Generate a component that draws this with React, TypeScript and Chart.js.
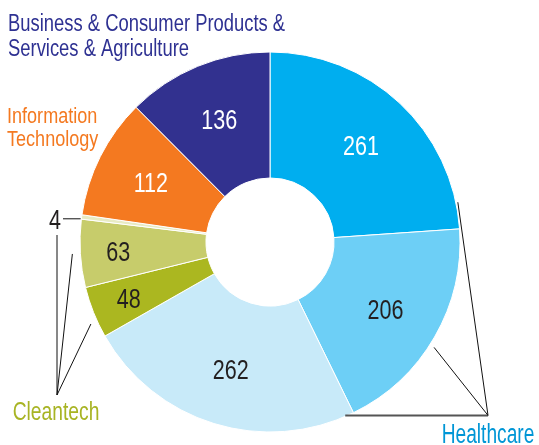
import React, { useEffect, useRef } from 'react';
import { Chart, registerables } from 'chart.js';

Chart.register(...registerables);

const sliceLabels = ['Healthcare 1', 'Healthcare 2', 'Healthcare 3', 'Cleantech 1', 'Cleantech 2', 'Cleantech 3', 'Information Technology', 'Business & Consumer Products & Services & Agriculture'];
const values = [261, 206, 262, 48, 63, 4, 112, 136];
const sliceColors = ['#00AEEF', '#6DCFF6', '#C8EAF9', '#ABB720', '#C7CC6B', '#E8EBC4', '#F47920', '#32318F'];
const valueTextColors = ['#FFFFFF', '#231F20', '#231F20', '#231F20', '#231F20', '#231F20', '#FFFFFF', '#FFFFFF'];

const FONT = '"Liberation Sans", Arial, sans-serif';

function drawText(ctx: CanvasRenderingContext2D, text: string, x: number, y: number, size: number, k: number, color: string, align: CanvasTextAlign) {
  ctx.save();
  ctx.translate(x, y);
  ctx.scale(k, 1);
  ctx.font = `${size}px ${FONT}`;
  ctx.fillStyle = color;
  ctx.textAlign = align;
  ctx.textBaseline = 'alphabetic';
  ctx.fillText(text, 0, 0);
  ctx.restore();
}

function line(ctx: CanvasRenderingContext2D, x1: number, y1: number, x2: number, y2: number, color = '#111', w = 1) {
  ctx.save();
  ctx.strokeStyle = color;
  ctx.lineWidth = w;
  ctx.beginPath();
  ctx.moveTo(x1, y1);
  ctx.lineTo(x2, y2);
  ctx.stroke();
  ctx.restore();
}

const annotPlugin = {
  id: 'annot',
  afterDatasetsDraw(chart: any) {
    const ctx: CanvasRenderingContext2D = chart.ctx;
    const arcs = chart.getDatasetMeta(0).data as any[];
    const pt = (i: number, t: number, dr: number) => {
      const a = arcs[i];
      const ang = a.startAngle + (a.endAngle - a.startAngle) * t;
      const r = a.outerRadius + dr;
      return [a.x + r * Math.cos(ang), a.y + r * Math.sin(ang)];
    };
    const S = 28;
    const K = 0.77;
    // values inside slices
    arcs.forEach((a, i) => {
      const span = a.endAngle - a.startAngle;
      if (span < 0.1) return;
      const mid = (a.startAngle + a.endAngle) / 2;
      const r = span < 0.45 ? a.outerRadius - 38 : a.innerRadius + (a.outerRadius - a.innerRadius) * 0.55;
      const x = a.x + r * Math.cos(mid);
      const y = a.y + r * Math.sin(mid);
      drawText(ctx, String(values[i]), x, y + 0.358 * S, S, K, valueTextColors[i], 'center');
    });

    // small slice "4" with leader
    const p4 = pt(5, 0.5, 1);
    line(ctx, p4[0], p4[1] + 2, 63, p4[1] + 2);
    drawText(ctx, String(values[5]), 61, p4[1] + 2 + 0.358 * S, S, K, '#231F20', 'right');

    // Cleantech leaders
    const apexC = [57, 395];
    line(ctx, apexC[0], apexC[1], 57, 235);
    const p63 = pt(4, 0.5, 8);
    line(ctx, apexC[0], apexC[1], p63[0], p63[1]);
    const p48 = pt(3, 0.32, 7);
    line(ctx, apexC[0], apexC[1], p48[0], p48[1]);
    drawText(ctx, 'Cleantech', 56, 420, 25.5, 0.755, '#A8B424', 'center');

    // Healthcare leaders
    const h3 = pt(2, 0.03, -1);
    const apexH = [488, h3[1]];
    line(ctx, apexH[0], apexH[1], h3[0], h3[1], '#555', 2);
    const h1 = pt(0, 0.907, 2);
    line(ctx, apexH[0], apexH[1], h1[0], h1[1]);
    const h2 = pt(1, 0.54, 5);
    line(ctx, apexH[0], apexH[1], h2[0], h2[1]);
    drawText(ctx, 'Healthcare', 488, 443, 27, 0.71, '#0096D6', 'center');

    // Other group titles
    drawText(ctx, 'Business & Consumer Products &', 8, 31, 23, 0.8, '#2E3192', 'left');
    drawText(ctx, 'Services & Agriculture', 8, 56, 23, 0.8, '#2E3192', 'left');
    drawText(ctx, 'Information', 7, 123, 21.5, 0.84, '#F47920', 'left');
    drawText(ctx, 'Technology', 7, 146, 21.5, 0.84, '#F47920', 'left');
  },
};

export default function App() {
  const ref = useRef<HTMLCanvasElement | null>(null);
  useEffect(() => {
    if (!ref.current) return;
    const chart = new Chart(ref.current, {
      type: 'doughnut',
      data: {
        labels: sliceLabels,
        datasets: [
          {
            data: values,
            backgroundColor: sliceColors,
            borderColor: '#FFFFFF',
            borderWidth: 1,
            hoverOffset: 0,
          },
        ],
      },
      options: {
        responsive: false,
        animation: false,
        radius: 190,
        cutout: '33.7%',
        rotation: 0,
        layout: { padding: { left: 1, right: 0, top: 39, bottom: 0 } },
        plugins: {
          legend: { display: false },
          tooltip: { enabled: false },
        },
        events: [],
      } as any,
      plugins: [annotPlugin],
    });
    return () => chart.destroy();
  }, []);
  return (
    <div style={{ position: 'absolute', left: 0, top: 0, width: 539, height: 445, background: '#fff' }}>
      <canvas ref={ref} width={539} height={445} style={{ display: 'block', width: 539, height: 445 }} />
    </div>
  );
}
